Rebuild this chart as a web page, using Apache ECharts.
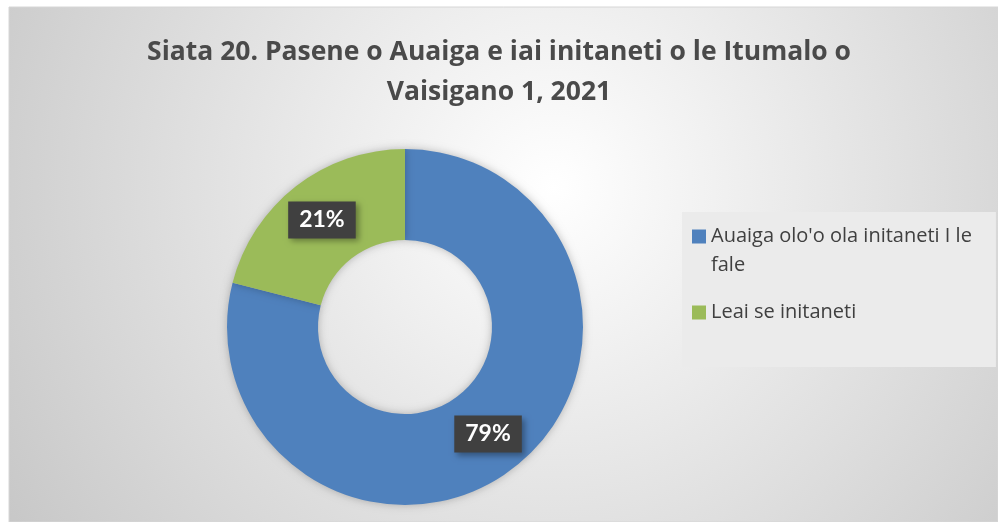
<!DOCTYPE html>
<html>
<head>
<meta charset="utf-8">
<script src="https://cdn.jsdelivr.net/npm/echarts@6/dist/echarts.min.js"></script>
<style>
  html, body { margin: 0; padding: 0; background: #fff; }
  #chart { width: 998px; height: 522px; }
</style>
</head>
<body>
<div id="chart"></div>
<script>
// data
const categories = ["Auaiga olo'o ola initaneti I le fale", 'Leai se initaneti'];
const shares = [79, 21];
const colors = ['#4f81bd', '#9bbb59'];

// first legend entry wraps in the original: line one in the legend, rest below it
const firstLine = "Auaiga olo'o ola initaneti I le";
const wrappedRest = 'fale';

const chart = echarts.init(document.getElementById('chart'));

chart.setOption({
  animation: false,
  color: colors,
  graphic: [{
    type: 'rect',
    z: -10,
    silent: true,
    shape: { x: 9, y: 7, width: 989, height: 515 },
    style: {
      fill: new echarts.graphic.RadialGradient(0.55, 0.35, 1.36, [
        { offset: 0, color: '#ffffff' },
        { offset: 1, color: '#c2c2c2' }
      ]),
      stroke: '#d6d6d6',
      lineWidth: 1
    }
  }, {
    type: 'text',
    left: 711,
    top: 255,
    z: 10,
    silent: true,
    style: {
      text: wrappedRest,
      fontFamily: 'Open Sans',
      fontSize: 20,
      fill: '#404040'
    }
  }],
  title: {
    text: 'Siata 20. Pasene o Auaiga e iai initaneti o le Itumalo o\nVaisigano 1, 2021',
    left: 'center',
    top: 27,
    textStyle: {
      fontFamily: 'Open Sans',
      fontSize: 26.5,
      fontWeight: 'bold',
      color: '#4a4a4a',
      lineHeight: 40
    }
  },
  legend: {
    orient: 'vertical',
    left: 682,
    top: 212,
    padding: [10, 24, 40, 10],
    backgroundColor: '#ebebeb',
    itemWidth: 14,
    itemHeight: 14,
    itemGap: 47,
    icon: 'rect',
    formatter: function (name) {
      return name === categories[0] ? firstLine : name;
    },
    textStyle: {
      fontFamily: 'Open Sans',
      fontSize: 20,
      color: '#404040',
      lineHeight: 29
    },
    data: categories
  },
  series: [{
    type: 'pie',
    center: [405, 327],
    radius: [87, 178],
    startAngle: 90,
    clockwise: true,
    itemStyle: {
      shadowBlur: 8,
      shadowColor: 'rgba(0,0,0,0.25)'
    },
    label: {
      position: 'inside',
      formatter: '{c}%',
      fontFamily: 'Lato',
      fontSize: 23,
      fontWeight: 'bold',
      color: '#ffffff',
      backgroundColor: '#404040',
      padding: [8, 11, 6, 11],
      shadowBlur: 6,
      shadowOffsetX: 3,
      shadowOffsetY: 3,
      shadowColor: 'rgba(0,0,0,0.35)'
    },
    labelLine: { show: false },
    emphasis: { disabled: true },
    data: categories.map((name, i) => ({ name: name, value: shares[i] }))
  }]
});
</script>
</body>
</html>
